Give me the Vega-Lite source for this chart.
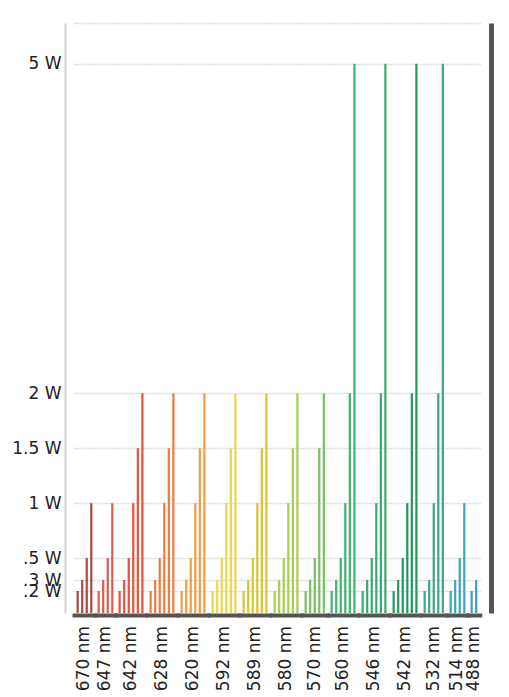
{
  "$schema": "https://vega.github.io/schema/vega-lite/v6.json",
  "background": "white",
  "padding": {"left": 11, "top": 14, "right": 5, "bottom": 3},
  "bounds": "flush",
  "data": {"values": [
    {"wl": "670 nm", "p": 0.2}, {"wl": "670 nm", "p": 0.3}, {"wl": "670 nm", "p": 0.5}, {"wl": "670 nm", "p": 1},
    {"wl": "647 nm", "p": 0.2}, {"wl": "647 nm", "p": 0.3}, {"wl": "647 nm", "p": 0.5}, {"wl": "647 nm", "p": 1},
    {"wl": "642 nm", "p": 0.2}, {"wl": "642 nm", "p": 0.3}, {"wl": "642 nm", "p": 0.5}, {"wl": "642 nm", "p": 1}, {"wl": "642 nm", "p": 1.5}, {"wl": "642 nm", "p": 2},
    {"wl": "628 nm", "p": 0.2}, {"wl": "628 nm", "p": 0.3}, {"wl": "628 nm", "p": 0.5}, {"wl": "628 nm", "p": 1}, {"wl": "628 nm", "p": 1.5}, {"wl": "628 nm", "p": 2},
    {"wl": "620 nm", "p": 0.2}, {"wl": "620 nm", "p": 0.3}, {"wl": "620 nm", "p": 0.5}, {"wl": "620 nm", "p": 1}, {"wl": "620 nm", "p": 1.5}, {"wl": "620 nm", "p": 2},
    {"wl": "592 nm", "p": 0.2}, {"wl": "592 nm", "p": 0.3}, {"wl": "592 nm", "p": 0.5}, {"wl": "592 nm", "p": 1}, {"wl": "592 nm", "p": 1.5}, {"wl": "592 nm", "p": 2},
    {"wl": "589 nm", "p": 0.2}, {"wl": "589 nm", "p": 0.3}, {"wl": "589 nm", "p": 0.5}, {"wl": "589 nm", "p": 1}, {"wl": "589 nm", "p": 1.5}, {"wl": "589 nm", "p": 2},
    {"wl": "580 nm", "p": 0.2}, {"wl": "580 nm", "p": 0.3}, {"wl": "580 nm", "p": 0.5}, {"wl": "580 nm", "p": 1}, {"wl": "580 nm", "p": 1.5}, {"wl": "580 nm", "p": 2},
    {"wl": "570 nm", "p": 0.2}, {"wl": "570 nm", "p": 0.3}, {"wl": "570 nm", "p": 0.5}, {"wl": "570 nm", "p": 1.5}, {"wl": "570 nm", "p": 2},
    {"wl": "560 nm", "p": 0.2}, {"wl": "560 nm", "p": 0.3}, {"wl": "560 nm", "p": 0.5}, {"wl": "560 nm", "p": 1}, {"wl": "560 nm", "p": 2}, {"wl": "560 nm", "p": 5},
    {"wl": "546 nm", "p": 0.2}, {"wl": "546 nm", "p": 0.3}, {"wl": "546 nm", "p": 0.5}, {"wl": "546 nm", "p": 1}, {"wl": "546 nm", "p": 2}, {"wl": "546 nm", "p": 5},
    {"wl": "542 nm", "p": 0.2}, {"wl": "542 nm", "p": 0.3}, {"wl": "542 nm", "p": 0.5}, {"wl": "542 nm", "p": 1}, {"wl": "542 nm", "p": 2}, {"wl": "542 nm", "p": 5},
    {"wl": "532 nm", "p": 0.2}, {"wl": "532 nm", "p": 0.3}, {"wl": "532 nm", "p": 1}, {"wl": "532 nm", "p": 2}, {"wl": "532 nm", "p": 5},
    {"wl": "514 nm", "p": 0.2}, {"wl": "514 nm", "p": 0.3}, {"wl": "514 nm", "p": 0.5}, {"wl": "514 nm", "p": 1},
    {"wl": "488 nm", "p": 0.2}, {"wl": "488 nm", "p": 0.3}
  ]},
  "facet": {
    "column": {
      "field": "wl", "type": "nominal",
      "sort": ["670 nm", "647 nm", "642 nm", "628 nm", "620 nm", "592 nm", "589 nm", "580 nm", "570 nm", "560 nm", "546 nm", "542 nm", "532 nm", "514 nm", "488 nm"],
      "header": {
        "title": null,
        "labelOrient": "bottom",
        "labelAngle": -90,
        "labelAlign": "right",
        "labelBaseline": "middle",
        "labelFont": "DejaVu Sans",
        "labelFontSize": 17,
        "labelColor": "#222222",
        "labelPadding": 13
      }
    }
  },
  "spacing": 0,
  "resolve": {"scale": {"x": "independent"}},
  "spec": {
    "width": {"step": 4.55},
    "height": 590,
    "layer": [
      {
        "mark": {"type": "bar", "size": 2.2, "strokeWidth": 0.8, "strokeOpacity": 0.35},
        "encoding": {
          "x": {
            "field": "p", "type": "ordinal",
            "scale": {"paddingOuter": 0.3, "paddingInner": 0},
            "axis": {"labels": false, "ticks": false, "title": null, "grid": false, "domainColor": "#555555", "domainWidth": 4, "domainCap": "square", "offset": 2}
          },
          "y": {
            "field": "p", "type": "quantitative", "stack": null,
            "scale": {"domain": [0, 5.37], "nice": false},
            "axis": {
              "values": [0.2, 0.3, 0.5, 1, 1.5, 2, 5, 5.37],
              "labelExpr": "datum.value > 5.1 ? '' : (datum.value < 1 ? substring(toString(datum.value), 1) : toString(datum.value)) + ' W'",
              "ticks": false,
              "labelPadding": 4,
              "offset": 9,
              "grid": true,
              "gridColor": "#e6e6e6",
              "gridWidth": 1.5,
              "gridCap": "square",
              "domainColor": "#d4d4d4",
              "domainWidth": 2,
              "title": null,
              "labelOverlap": false,
              "labelBound": false,
              "labelFont": "DejaVu Sans",
              "labelFontSize": 17,
              "labelColor": "#222222"
            }
          },
          "color": {
            "field": "wl", "type": "nominal", "legend": null,
            "scale": {
              "domain": ["670 nm", "647 nm", "642 nm", "628 nm", "620 nm", "592 nm", "589 nm", "580 nm", "570 nm", "560 nm", "546 nm", "542 nm", "532 nm", "514 nm", "488 nm"],
              "range": ["#a9493f", "#dd5c4e", "#e8503c", "#f07a3a", "#f49c42", "#ecd64c", "#e0c22e", "#a6cf4e", "#76c060", "#3ab66c", "#36aa70", "#1f9a5c", "#3aa68a", "#3aa6bc", "#4596d6"]
            }
          }
        }
      },
      {
        "mark": {"type": "bar", "opacity": 0},
        "encoding": {
          "x": {
            "field": "p", "type": "ordinal",
            "axis": {"labels": false, "ticks": false, "title": null, "grid": false, "domainColor": "#555555", "domainWidth": 4, "domainCap": "square", "offset": 2}
          },
          "y": {
            "field": "p", "type": "quantitative", "stack": null,
            "axis": {"orient": "right", "labels": false, "ticks": false, "grid": false, "title": null, "domainColor": "#555555", "domainWidth": 5, "offset": 11}
          }
        }
      }
    ],
    "resolve": {"axis": {"y": "independent"}}
  },
  "config": {"view": {"stroke": null}}
}
